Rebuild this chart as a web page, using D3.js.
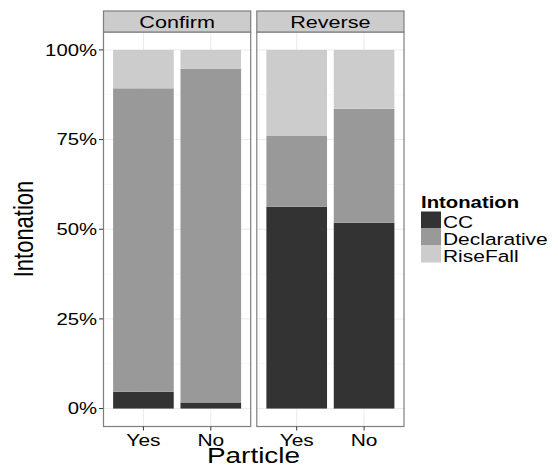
<!DOCTYPE html>
<html>
<head>
<meta charset="utf-8">
<script src="https://cdn.jsdelivr.net/npm/d3@7"></script>
<style>
  body { margin: 0; background: #fff; }
  svg text { font-family: "Liberation Sans", Arial, sans-serif; fill: #000; }
</style>
</head>
<body>
<div id="chart"></div>
<script>
// data
const facets = ["Confirm", "Reverse"];
const particles = ["Yes", "No"];
const intonations = ["CC", "Declarative", "RiseFall"];
// order: Confirm-Yes, Confirm-No, Reverse-Yes, Reverse-No
const ccVals   = [0.047, 0.017, 0.563, 0.518];
const declVals = [0.846, 0.930, 0.197, 0.318];
const riseVals = [0.107, 0.053, 0.240, 0.164];
const yTicks = [0, 0.25, 0.5, 0.75, 1];

const width = 558, height = 468;
const sx = 1.27; // reference text is stretched sideways

const svg = d3.select("#chart").append("svg")
  .attr("width", width).attr("height", height);

const rows = [];
facets.forEach((f, fi) => particles.forEach((p, pi) => {
  const i = fi * 2 + pi;
  rows.push({facet: f, particle: p, CC: ccVals[i], Declarative: declVals[i], RiseFall: riseVals[i]});
}));

const stack = d3.stack().keys(intonations);
const series = stack(rows);

const color = d3.scaleOrdinal(intonations, ["#333333", "#999999", "#cccccc"]);

const panelX = d3.scaleBand(facets, [103, 404.5]).paddingInner(5 / 301.5 * 2).paddingOuter(0);
const stripTop = 11, panelTop = 32, panelBottom = 426.5;
const y = d3.scaleLinear([-0.05, 1.05], [panelBottom, panelTop]);

function label(g, x, yy, txt, opts = {}) {
  const t = g.append("g").attr("transform", `translate(${x},${yy}) scale(${sx},1)` + (opts.rotate ? ` rotate(${opts.rotate})` : ""))
    .append("text")
    .attr("text-anchor", opts.anchor || "middle")
    .attr("font-size", opts.size || 16)
    .text(txt);
  if (opts.bold) t.attr("font-weight", "bold");
  return t;
}

facets.forEach(f => {
  const x0 = panelX(f), w = panelX.bandwidth();
  const x = d3.scaleBand(particles, [x0, x0 + w]).paddingInner(0.1 / 1.0).paddingOuter(0.35);
  // ggplot: discrete expand 0.6, width 0.9
  const xc = d3.scalePoint(particles, [x0 + w * 0.6 / 2.2, x0 + w * 1.6 / 2.2]);
  const bw = w * 0.9 / 2.2;
  const g = svg.append("g");

  // minor grid
  g.selectAll(".minor").data([0.125, 0.375, 0.625, 0.875]).join("line")
    .attr("x1", x0).attr("x2", x0 + w)
    .attr("y1", d => y(d)).attr("y2", d => y(d))
    .attr("stroke", "#f7f7f7").attr("stroke-width", 1);
  // major grid
  g.selectAll(".major").data(yTicks).join("line")
    .attr("x1", x0).attr("x2", x0 + w)
    .attr("y1", d => y(d)).attr("y2", d => y(d))
    .attr("stroke", "#ebebeb").attr("stroke-width", 1);
  g.selectAll(".vmajor").data(particles).join("line")
    .attr("x1", d => xc(d)).attr("x2", d => xc(d))
    .attr("y1", panelTop).attr("y2", panelBottom)
    .attr("stroke", "#ebebeb").attr("stroke-width", 1);

  // bars
  series.forEach(s => {
    g.selectAll(null).data(s.filter(d => d.data.facet === f)).join("rect")
      .attr("x", d => xc(d.data.particle) - bw / 2)
      .attr("width", bw)
      .attr("y", d => y(d[1]))
      .attr("height", d => y(d[0]) - y(d[1]))
      .attr("fill", color(s.key));
  });

  // panel border
  g.append("rect").attr("x", x0 + 0.5).attr("y", panelTop).attr("width", w - 1).attr("height", panelBottom - panelTop)
    .attr("fill", "none").attr("stroke", "#7f7f7f").attr("stroke-width", 1.2);
  // strip
  g.append("rect").attr("x", x0 + 0.5).attr("y", stripTop).attr("width", w - 1).attr("height", panelTop - stripTop)
    .attr("fill", "#cccccc").attr("stroke", "#7f7f7f").attr("stroke-width", 1.2);
  label(g, x0 + w / 2, stripTop + 17, f, {size: 17});

  // x ticks
  g.selectAll(".xt").data(particles).join("line")
    .attr("x1", d => xc(d)).attr("x2", d => xc(d))
    .attr("y1", panelBottom).attr("y2", panelBottom + 4)
    .attr("stroke", "#333").attr("stroke-width", 1);
  particles.forEach(p => label(g, xc(p), panelBottom + 19.5, p, {size: 16.5}));
});

// y axis
const ya = svg.append("g");
const x0 = panelX(facets[0]);
ya.selectAll("line").data(yTicks).join("line")
  .attr("x1", x0 - 4).attr("x2", x0)
  .attr("y1", d => y(d)).attr("y2", d => y(d))
  .attr("stroke", "#333").attr("stroke-width", 1);
yTicks.forEach(t => label(ya, x0 - 6, y(t) + 5.8, d3.format(".0%")(t), {size: 16, anchor: "end"}));

// axis titles
label(svg, 33, 229, "Intonation", {size: 22, rotate: -90});
label(svg, 253.5, 463, "Particle", {size: 22});

// legend
const lg = svg.append("g");
label(lg, 421, 208, "Intonation", {size: 16, bold: true, anchor: "start"});
intonations.forEach((k, i) => {
  lg.append("rect").attr("x", 421).attr("y", 211.5 + i * 17).attr("width", 20).attr("height", 17)
    .attr("fill", color(k));
  label(lg, 443, 228 + i * 16.8, k, {size: 16.5, anchor: "start"});
});
</script>
</body>
</html>
